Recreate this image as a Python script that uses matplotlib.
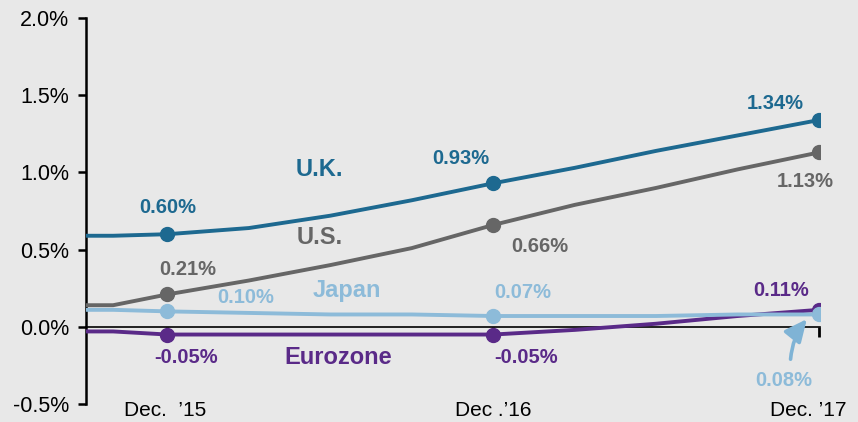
import matplotlib
matplotlib.use("Agg")
import matplotlib.pyplot as plt
from matplotlib.patches import FancyArrowPatch

plt.rcParams["font.family"] = ["Liberation Sans", "DejaVu Sans"]

# months relative to Dec. 2015
months = [-3, -2, 0, 3, 6, 9, 12, 15, 18, 21, 24]
uk = [0.59, 0.59, 0.60, 0.64, 0.72, 0.82, 0.93, 1.03, 1.14, 1.24, 1.34]
us = [0.14, 0.14, 0.21, 0.30, 0.40, 0.51, 0.66, 0.79, 0.90, 1.02, 1.13]
japan = [0.11, 0.11, 0.10, 0.09, 0.08, 0.08, 0.07, 0.07, 0.07, 0.08, 0.08]
eurozone = [-0.03, -0.03, -0.05, -0.05, -0.05, -0.05, -0.05, -0.02, 0.02, 0.07, 0.11]

marker_months = [0, 12, 24]
x_labels = ["Dec.  \u201915", "Dec .\u201916", "Dec. \u201917"]
y_ticks = [-0.5, 0.0, 0.5, 1.0, 1.5, 2.0]

C_UK = "#1d6990"
C_US = "#666666"
C_JP = "#8dbbd9"
C_EZ = "#5a2a88"
BG = "#e8e8e8"

fig = plt.figure(figsize=(8.58, 4.22), dpi=100, facecolor=BG)
ax = fig.add_axes([0.1002, 0.0427, 0.856, 0.9143])
ax.set_facecolor(BG)

for vals, col in [(eurozone, C_EZ), (japan, C_JP), (us, C_US), (uk, C_UK)]:
    ax.plot(months, vals, color=col, lw=2.8, solid_capstyle="butt", zorder=3)
    mv = [vals[months.index(m)] for m in marker_months]
    ax.plot(marker_months, mv, "o", color=col, ms=10, zorder=4)

ax.set_xlim(-3, 24.05)
ax.set_ylim(-0.5, 2.0)

# axes: left spine + zero line with ticks
for s in ["top", "right"]:
    ax.spines[s].set_visible(False)
ax.spines["left"].set_linewidth(1.8)
ax.spines["bottom"].set_position(("data", 0))
ax.spines["bottom"].set_linewidth(1.2)
ax.set_yticks(y_ticks)
ax.set_yticklabels([f"{v:.1f}%" for v in y_ticks], fontsize=15.5)
ax.tick_params(axis="y", length=6, width=1.8, direction="out", pad=6)
ax.set_xticks(marker_months)
ax.set_xticklabels([])
ax.tick_params(axis="x", length=7, width=2, direction="out")

for m, lab, dx in zip(marker_months, x_labels, [-0.1, 0, -0.4]):
    ax.text(m + dx, -0.545, lab, ha="center", va="center", fontsize=15,
            clip_on=False)

# series names
name_kw = dict(fontsize=17, fontweight="bold", ha="center", va="center")
ax.text(5.6, 1.02, "U.K.", color=C_UK, **name_kw)
ax.text(5.6, 0.58, "U.S.", color=C_US, **name_kw)
ax.text(6.6, 0.235, "Japan", color=C_JP, **name_kw)
ax.text(6.3, -0.20, "Eurozone", color=C_EZ, **name_kw)

# value labels
val_kw = dict(fontsize=14.5, fontweight="bold", ha="center", va="center")
ax.text(0.0, 0.77, f"{uk[2]:.2f}%", color=C_UK, **val_kw)
ax.text(10.8, 1.09, f"{uk[6]:.2f}%", color=C_UK, **val_kw)
ax.text(22.4, 1.45, f"{uk[10]:.2f}%", color=C_UK, **val_kw)
ax.text(0.75, 0.37, f"{us[2]:.2f}%", color=C_US, **val_kw)
ax.text(13.7, 0.52, f"{us[6]:.2f}%", color=C_US, **val_kw)
ax.text(23.5, 0.94, f"{us[10]:.2f}%", color=C_US, **val_kw)
ax.text(2.9, 0.19, f"{japan[2]:.2f}%", color=C_JP, **val_kw)
ax.text(13.1, 0.225, f"{japan[6]:.2f}%", color=C_JP, **val_kw)
ax.text(22.7, -0.345, f"{japan[10]:.2f}%", color=C_JP, **val_kw)
ax.text(0.7, -0.20, f"{eurozone[2]:.2f}%", color=C_EZ, **val_kw)
ax.text(13.2, -0.20, f"{eurozone[6]:.2f}%", color=C_EZ, **val_kw)
ax.text(22.6, 0.235, f"{eurozone[10]:.2f}%", color=C_EZ, **val_kw)

# pointer from the Japan end label to its marker
arr = FancyArrowPatch((22.95, -0.21), (23.55, 0.05),
                      connectionstyle="arc3,rad=-0.15",
                      arrowstyle="-|>,head_length=0.75,head_width=0.35",
                      mutation_scale=18, shrinkA=0, shrinkB=0,
                      lw=2.6, color="#7fb3d5", zorder=5)
ax.add_patch(arr)

fig.savefig("out.png", dpi=100, facecolor=BG)
